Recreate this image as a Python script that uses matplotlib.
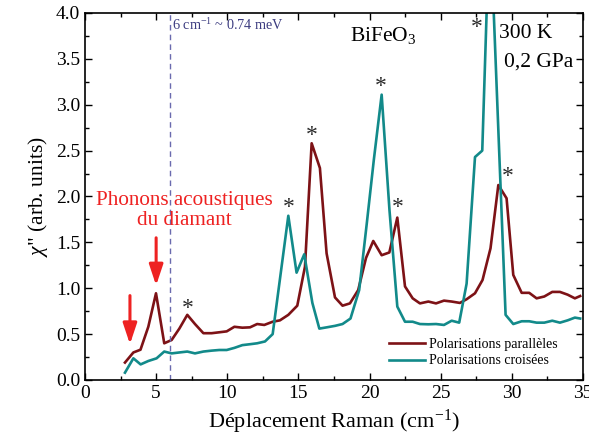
import matplotlib
matplotlib.use('Agg')
import matplotlib.pyplot as plt
from matplotlib.ticker import MultipleLocator

# Polarisations paralleles (dark red)
par_x = [2.81, 3.4, 3.9, 4.45, 4.99, 5.57, 6.09, 6.63, 7.19, 7.73, 8.32, 8.9, 9.44, 9.96,
         10.5, 11.06, 11.6, 12.1, 12.6, 13.19, 13.7, 14.29, 14.92, 15.46, 15.93, 16.51,
         16.98, 17.57, 18.1, 18.62, 19.2, 19.75, 20.26, 20.85, 21.39, 21.95, 22.49, 23.03,
         23.54, 24.13, 24.67, 25.23, 25.77, 26.35, 26.82, 27.41, 27.94, 28.5, 29.05, 29.63,
         30.1, 30.69, 31.22, 31.74, 32.28, 32.84, 33.38, 33.92, 34.43, 34.8]
par_y = [0.19, 0.30, 0.33, 0.58, 0.945, 0.40, 0.436, 0.56, 0.71, 0.61, 0.51, 0.51, 0.52, 0.53,
         0.58, 0.57, 0.574, 0.61, 0.60, 0.635, 0.65, 0.71, 0.81, 1.235, 2.58, 2.31,
         1.38, 0.90, 0.81, 0.835, 0.98, 1.33, 1.515, 1.36, 1.39, 1.77, 1.02, 0.89,
         0.835, 0.855, 0.835, 0.865, 0.855, 0.84, 0.88, 0.945, 1.09, 1.435, 2.125, 1.98,
         1.145, 0.95, 0.95, 0.89, 0.91, 0.96, 0.96, 0.93, 0.89, 0.915]

# Polarisations croisees (teal)
cro_x = [2.81, 3.4, 3.91, 4.45, 5.03, 5.57, 6.09, 6.63, 7.19, 7.73, 8.32, 8.9, 9.44, 9.96,
         10.5, 11.06, 11.6, 12.1, 12.65, 13.19, 14.29, 14.87, 15.41, 15.98, 16.47, 17.03,
         17.57, 18.1, 18.66, 19.27, 19.8, 20.3, 20.85, 21.4, 21.95, 22.49, 23.03, 23.54,
         24.13, 24.67, 25.23, 25.77, 26.3, 26.82, 27.41, 27.92, 28.45, 29.56, 30.1, 30.69,
         31.22, 31.74, 32.28, 32.84, 33.38, 33.92, 34.43, 34.8]
cro_y = [0.08, 0.236, 0.17, 0.207, 0.236, 0.31, 0.29, 0.30, 0.31, 0.29, 0.31, 0.32, 0.327, 0.327,
         0.35, 0.38, 0.39, 0.40, 0.42, 0.50, 1.79, 1.17, 1.37, 0.84, 0.56, 0.575,
         0.59, 0.61, 0.67, 0.98, 1.70, 2.40, 3.11, 1.85, 0.80, 0.635, 0.635, 0.61,
         0.607, 0.61, 0.60, 0.646, 0.625, 1.05, 2.43, 2.50, 5.10, 0.71, 0.61, 0.64,
         0.64, 0.625, 0.625, 0.646, 0.625, 0.65, 0.68, 0.67]

# peaks marked with an asterisk
star_x = [7.19, 14.29, 15.97, 20.78, 21.95, 27.57, 29.7]
star_y = [0.81, 1.91, 2.69, 3.23, 1.91, 3.87, 2.25]

# acoustic phonon arrows (x, start y, end y)
arrow_x = [3.16, 5.0]
arrow_y0 = [0.95, 1.58]
arrow_y1 = [0.36, 1.0]

plt.rcParams.update({
    "font.family": ["Liberation Serif", "DejaVu Serif"],
    "font.size": 14,
    "mathtext.fontset": "custom",
    "mathtext.rm": "Liberation Serif",
    "mathtext.it": "Liberation Serif:italic",
})

fig = plt.figure(figsize=(5.89, 4.48), dpi=100)
ax = fig.add_axes([0.1443, 0.1518, 0.8455, 0.8192])

red = '#7d1216'
teal = '#128a8a'
ax.plot(par_x, par_y, color=red, lw=1.9, label='Polarisations parallèles')
ax.plot(cro_x, cro_y, color=teal, lw=1.9, label='Polarisations croisées')

ax.axvline(6, color='#6a6aae', ls=(0, (4, 3)), lw=1.0)
ax.text(6.12, 3.87, '6 cm$^{-1}$ ~ 0.74 meV', color='#3c3c80', fontsize=10.3, va='center')

for sx, sy in zip(star_x, star_y):
    ax.text(sx, sy - 0.03, '*', ha='center', va='center', fontsize=17, color='#2a2a2a')

for ax_, y0, y1 in zip(arrow_x, arrow_y0, arrow_y1):
    ax.annotate('', xy=(ax_, y1), xytext=(ax_, y0),
                arrowprops=dict(arrowstyle='-|>,head_width=0.3,head_length=0.9',
                                color='#ee2222', lw=2.2))

ax.text(6.96, 1.85, 'Phonons acoustiques\ndu diamant', color='#ee2222', fontsize=15.2,
        ha='center', va='center', linespacing=1.1)

ax.text(20.95, 3.75, 'BiFeO$_3$', fontsize=15.5, ha='center', va='center')
ax.text(31.0, 3.78, '300 K', fontsize=15.5, ha='center', va='center')
ax.text(31.85, 3.47, '0,2 GPa', fontsize=15.5, ha='center', va='center')

ax.set_xlim(0, 35)
ax.set_ylim(0, 4.0)
ax.xaxis.set_major_locator(MultipleLocator(5))
ax.xaxis.set_minor_locator(MultipleLocator(2.5))
ax.yaxis.set_major_locator(MultipleLocator(0.5))
ax.yaxis.set_minor_locator(MultipleLocator(0.25))
ax.yaxis.set_major_formatter(matplotlib.ticker.FormatStrFormatter('%.1f'))
ax.tick_params(which='both', direction='in', top=True, right=True, labelsize=14)
ax.tick_params(which='major', length=5, width=1)
ax.tick_params(which='minor', length=3, width=1)
for s in ax.spines.values():
    s.set_linewidth(1.2)

ax.set_xlabel('Déplacement Raman (cm$^{-1}$)', fontsize=16)
ax.set_ylabel('$\\chi$" (arb. units)', fontsize=15.5)

ax.legend(loc='lower right', bbox_to_anchor=(0.975, 0.0), frameon=False, fontsize=10,
          handlelength=2.6, handletextpad=0.3, labelspacing=0.25)

plt.savefig('out.png', dpi=100)
